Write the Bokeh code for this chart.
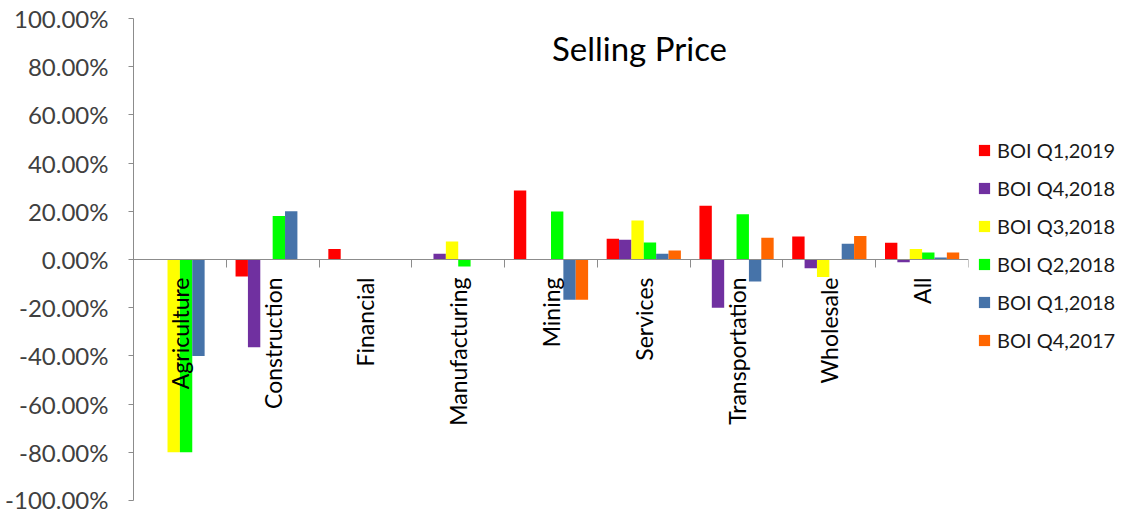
import math
from bokeh.plotting import figure
from bokeh.models import (ColumnDataSource, Range1d, NumeralTickFormatter, FixedTicker,
                          Legend, LegendItem, Label)
from bokeh.transform import dodge
from bokeh.core.properties import value
from bokeh.embed import file_html
from bokeh.resources import INLINE

categories = ["Agriculture", "Construction", "Financial", "Manufacturing", "Mining",
              "Services", "Transportation", "Wholesale", "All"]
series_names = ["BOI Q1,2019", "BOI Q4,2018", "BOI Q3,2018", "BOI Q2,2018",
                "BOI Q1,2018", "BOI Q4,2017"]
q1_2019 = [0.0, -0.071, 0.044, 0.0, 0.286, 0.086, 0.223, 0.095, 0.069]
q4_2018 = [0.0, -0.364, 0.0, 0.024, 0.0, 0.082, -0.200, -0.036, -0.011]
q3_2018 = [-0.80, 0.0, 0.0, 0.075, 0.0, 0.162, 0.0, -0.073, 0.044]
q2_2018 = [-0.80, 0.180, 0.0, -0.029, 0.199, 0.071, 0.188, 0.0, 0.029]
q1_2018 = [-0.40, 0.200, 0.0, 0.0, -0.167, 0.024, -0.091, 0.065, 0.008]
q4_2017 = [0.0, 0.0, 0.0, 0.0, -0.167, 0.037, 0.090, 0.098, 0.029]
y_ticks = [-1.0, -0.8, -0.6, -0.4, -0.2, 0.0, 0.2, 0.4, 0.6, 0.8, 1.0]

colors = ["#FF0000", "#7030A0", "#FFFF00", "#00FF00", "#4673A9", "#FF6600"]
series = [q1_2019, q4_2018, q3_2018, q2_2018, q1_2018, q4_2017]

FONT = "Lato"
n = len(categories)
xc = [i + 0.5 for i in range(n)]
data = {"x": xc, "cat": categories}
for k, s in enumerate(series):
    data[f"s{k}"] = s
source = ColumnDataSource(data)

p = figure(frame_width=835, frame_height=482, output_backend="svg", toolbar_location=None,
           x_range=Range1d(0, n), y_range=Range1d(-1, 1),
           min_border_left=133, min_border_right=0, min_border_top=18,
           min_border_bottom=13)
p.outline_line_color = None
p.xgrid.visible = False
p.ygrid.visible = False
p.background_fill_color = "white"
p.border_fill_color = "white"

bw = 1.0 / 7.5
items = []
for k, (name, col) in enumerate(zip(series_names, colors)):
    off = (k - 2.5) * bw
    r = p.vbar(x=dodge("x", off), top=f"s{k}", bottom=0, width=bw, source=source,
               fill_color=col, line_color=None)
    items.append(LegendItem(label=name, renderers=[r]))

# y axis
p.yaxis.ticker = FixedTicker(ticks=y_ticks)
p.yaxis.formatter = NumeralTickFormatter(format="0.00%")
p.yaxis.major_label_text_font = FONT
p.yaxis.major_label_text_font_size = "24px"
p.yaxis.major_label_text_color = "#404040"
p.yaxis.major_label_standoff = 20
p.yaxis.axis_line_color = "#8C8C8C"
p.yaxis.major_tick_line_color = "#8C8C8C"
p.yaxis.major_tick_out = 5
p.yaxis.major_tick_in = 0
p.yaxis.minor_tick_line_color = None

# category axis at zero
p.xaxis.fixed_location = 0
p.xaxis.ticker = FixedTicker(ticks=list(range(n + 1)))
p.xaxis.major_label_overrides = {i: "" for i in range(n + 1)}
p.xaxis.axis_line_color = "#8C8C8C"
p.xaxis.major_tick_line_color = "#8C8C8C"
p.xaxis.major_tick_out = 8
p.xaxis.major_tick_in = 0
p.xaxis.minor_tick_line_color = None
p.xaxis.major_label_standoff = 0

# category labels
p.text(x="x", y=0, text="cat", source=source, angle=math.pi / 2,
       text_align="right", text_baseline="middle", y_offset=18,
       text_font=value(FONT), text_font_size="23px", text_color="black")

# title
p.add_layout(Label(x=5.454, y=0.879, text="Selling Price", text_align="center",
                   text_baseline="alphabetic", text_font=FONT, text_font_size="33px",
                   text_color="black"))

legend = Legend(items=items, location=(9, 148), padding=0, margin=0,
                spacing=14, glyph_width=14, glyph_height=14, label_height=20,
                label_standoff=6, label_text_font=FONT, label_text_font_size="20px",
                label_text_color="#1a1a1a", border_line_color=None,
                background_fill_alpha=0)
p.add_layout(legend, "right")

open("out.html", "w").write(file_html(p, INLINE))
